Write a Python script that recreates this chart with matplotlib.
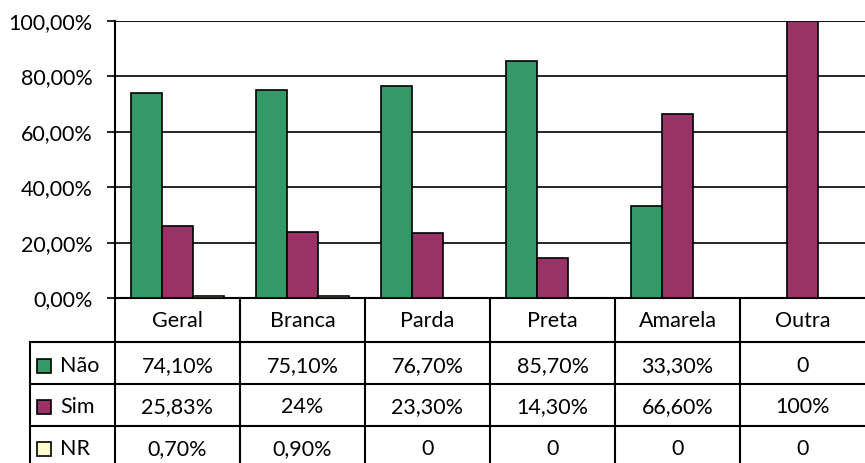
import matplotlib
matplotlib.use("Agg")
import matplotlib.pyplot as plt
import matplotlib.transforms as mtransforms
from matplotlib.ticker import FuncFormatter
import numpy as np

# === Data ===
categories = ["Geral", "Branca", "Parda", "Preta", "Amarela", "Outra"]
series_names = ["Não", "Sim", "NR"]
nao = [74.10, 75.10, 76.70, 85.70, 33.30, 0.0]
sim = [25.83, 24.00, 23.30, 14.30, 66.60, 100.0]
nr = [0.70, 0.90, 0.0, 0.0, 0.0, 0.0]
nao_labels = ["74,10%", "75,10%", "76,70%", "85,70%", "33,30%", "0"]
sim_labels = ["25,83%", "24%", "23,30%", "14,30%", "66,60%", "100%"]
nr_labels = ["0,70%", "0,90%", "0", "0", "0", "0"]
colors = ["#339966", "#993366", "#FFFFCC"]

plt.rcParams['font.family'] = ['Lato', 'DejaVu Sans']
FS = 15.5

W, H = 865, 463
fig = plt.figure(figsize=(W / 100, H / 100), dpi=100)
# plot area in pixels: x 115..865, y 21..298
ax = fig.add_axes([115 / W, 1 - 298 / H, 750 / W, 277 / H])

x = np.arange(len(categories))
bw = 0.25
for i, (vals, c) in enumerate(zip([nao, sim, nr], colors)):
  ax.bar(x + (i - 1) * bw, vals, bw, color=c, edgecolor='black', linewidth=1.2, zorder=3)

ax.set_xlim(-0.5, len(categories) - 0.5)
ax.set_ylim(0, 100)
ax.set_yticks(np.arange(0, 101, 20))
ax.yaxis.set_major_formatter(FuncFormatter(lambda v, p: f"{v:.2f}%".replace('.', ',')))
ax.tick_params(axis='y', length=6, width=1.2, pad=10, labelsize=FS)
ax.set_xticks([])
ax.grid(axis='y', color='black', linewidth=1.2, zorder=0)
for s in ['top', 'right']:
  ax.spines[s].set_visible(False)
ax.spines['left'].set_linewidth(1.5)
ax.spines['bottom'].set_linewidth(1.5)
ax.axhline(100, color='#808080', linewidth=1.5, zorder=1)

# === Data table below the axes ===
trans = mtransforms.blended_transform_factory(ax.transData, ax.transAxes)
def ya(py):
  return (298 - py) / 277

row_lines = [342, 384, 426]
row_centers = [366, 407, 449]
left_x = -0.5 - 85 / 125  # left border of label column
lw = 1.5
for py in row_lines:
  ax.plot([left_x, 5.5], [ya(py)] * 2, transform=trans, color='black', lw=lw, clip_on=False)
for k in range(len(categories)):
  ax.plot([k - 0.5] * 2, [ya(298), ya(470)], transform=trans, color='black', lw=lw, clip_on=False)
ax.plot([left_x] * 2, [ya(342), ya(470)], transform=trans, color='black', lw=lw, clip_on=False)

# header
for k, cat in enumerate(categories):
  ax.text(k, ya(321), cat, transform=trans, ha='center', va='center', fontsize=FS)
# rows
for r, (name, labels, c) in enumerate(zip(series_names, [nao_labels, sim_labels, nr_labels], colors)):
  yc = ya(row_centers[r])
  for k, lab in enumerate(labels):
    ax.text(k, yc, lab, transform=trans, ha='center', va='center', fontsize=FS)
  # legend key
  ax.add_patch(plt.Rectangle((left_x + 7 / 125, yc - 7 / 277), 14 / 125, 14 / 277, transform=trans,
                             facecolor=c, edgecolor='black', lw=1.2, clip_on=False))
  ax.text(left_x + 30 / 125, yc, name, transform=trans, ha='left', va='center', fontsize=FS)

fig.savefig("out.png", dpi=100)
